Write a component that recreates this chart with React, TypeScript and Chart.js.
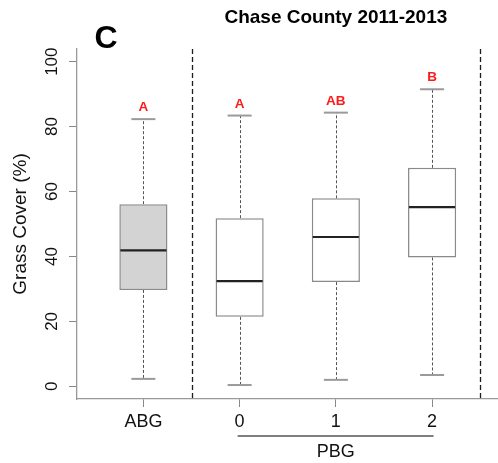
import { useEffect, useRef } from 'react';
import { Chart, registerables } from 'chart.js';

Chart.register(...registerables);

// Grass cover by grazing treatment, Chase County 2011-2013
const categories = ['ABG', '0', '1', '2'];
const positions = [1, 2, 3, 4];
const whiskerLow = [2.3, 0.4, 2.0, 3.5];
const lowerQuartile = [29.7, 21.4, 32.1, 39.7];
const medians = [41.9, 32.4, 46.0, 55.2];
const upperQuartile = [56.1, 51.8, 57.9, 67.3];
const whiskerHigh = [82.3, 83.4, 84.3, 91.5];
const groupLetters = ['A', 'A', 'AB', 'B'];
const boxFills = ['#d3d3d3', '#ffffff', '#ffffff', '#ffffff'];
const yTicks = [0, 20, 40, 60, 80, 100];
const separators = [1.5, 4.5];
const pbgSpan = [2, 4];

const FONT = '"Liberation Sans", Arial, Helvetica, sans-serif';

const boxplotDecor = {
  id: 'boxplotDecor',
  beforeDatasetsDraw(chart: any) {
    const { ctx, chartArea, scales } = chart;
    const x = scales.x;
    const y = scales.y;
    ctx.save();
    // dashed group separators
    ctx.strokeStyle = '#1a1a1a';
    ctx.lineWidth = 1.3;
    ctx.setLineDash([5, 3]);
    separators.forEach((s) => {
      const px = Math.round(x.getPixelForValue(s)) + 0.5;
      ctx.beginPath();
      ctx.moveTo(px, chartArea.top);
      ctx.lineTo(px, chartArea.bottom);
      ctx.stroke();
    });
    // whiskers
    ctx.strokeStyle = '#555';
    ctx.lineWidth = 1;
    ctx.setLineDash([3, 2]);
    positions.forEach((p, i) => {
      const px = Math.round(x.getPixelForValue(p)) + 0.5;
      ctx.beginPath();
      ctx.moveTo(px, y.getPixelForValue(upperQuartile[i]));
      ctx.lineTo(px, y.getPixelForValue(whiskerHigh[i]));
      ctx.moveTo(px, y.getPixelForValue(lowerQuartile[i]));
      ctx.lineTo(px, y.getPixelForValue(whiskerLow[i]));
      ctx.stroke();
    });
    // whisker caps
    ctx.setLineDash([]);
    ctx.strokeStyle = '#9a9a9a';
    ctx.lineWidth = 2;
    const unit = x.getPixelForValue(2) - x.getPixelForValue(1);
    const half = unit * 0.125;
    positions.forEach((p, i) => {
      const px = x.getPixelForValue(p);
      [whiskerHigh[i], whiskerLow[i]].forEach((v) => {
        const py = y.getPixelForValue(v);
        ctx.beginPath();
        ctx.moveTo(px - half, py);
        ctx.lineTo(px + half, py);
        ctx.stroke();
      });
    });
    ctx.restore();
  },
  afterDatasetsDraw(chart: any) {
    const { ctx, scales } = chart;
    const x = scales.x;
    const y = scales.y;
    const unit = x.getPixelForValue(2) - x.getPixelForValue(1);
    const half = unit * 0.25;
    ctx.save();
    // medians
    ctx.strokeStyle = '#222';
    ctx.lineWidth = 2.2;
    positions.forEach((p, i) => {
      const px = x.getPixelForValue(p);
      const py = y.getPixelForValue(medians[i]);
      ctx.beginPath();
      ctx.moveTo(px - half + 1, py);
      ctx.lineTo(px + half - 1, py);
      ctx.stroke();
    });
    // significance letters
    ctx.fillStyle = '#ff1a1a';
    ctx.font = `bold 13.5px ${FONT}`;
    ctx.textAlign = 'center';
    ctx.textBaseline = 'middle';
    positions.forEach((p, i) => {
      ctx.fillText(groupLetters[i], x.getPixelForValue(p), y.getPixelForValue(whiskerHigh[i]) - 11.5);
    });
    ctx.restore();
  },
  afterDraw(chart: any) {
    const { ctx, chartArea, scales } = chart;
    const x = scales.x;
    const y = scales.y;
    ctx.save();
    ctx.fillStyle = '#111';
    // y tick labels, parallel to the axis
    ctx.font = `17px ${FONT}`;
    ctx.textAlign = 'center';
    ctx.textBaseline = 'middle';
    yTicks.forEach((v) => {
      ctx.save();
      ctx.translate(chartArea.left - 25, y.getPixelForValue(v));
      ctx.rotate(-Math.PI / 2);
      ctx.fillText(String(v), 0, 0);
      ctx.restore();
    });
    // y axis title
    ctx.save();
    ctx.font = `19px ${FONT}`;
    ctx.translate(21, (chartArea.top + chartArea.bottom) / 2);
    ctx.rotate(-Math.PI / 2);
    ctx.fillText('Grass Cover (%)', 0, 0);
    ctx.restore();
    // PBG bracket
    const bx0 = x.getPixelForValue(pbgSpan[0]) - 2;
    const bx1 = x.getPixelForValue(pbgSpan[1]) + 1.5;
    const by = chartArea.bottom + 37;
    ctx.strokeStyle = '#555';
    ctx.lineWidth = 1.5;
    ctx.beginPath();
    ctx.moveTo(bx0, by);
    ctx.lineTo(bx1, by);
    ctx.stroke();
    ctx.font = `18px ${FONT}`;
    ctx.fillText('PBG', x.getPixelForValue(3), chartArea.bottom + 53);
    // title and panel letter
    ctx.fillStyle = '#000';
    ctx.font = `bold 19px ${FONT}`;
    ctx.fillText('Chase County 2011-2013', x.getPixelForValue(3), 18);
    ctx.font = `bold 32px ${FONT}`;
    ctx.fillText('C', 106, 39);
    ctx.restore();
  },
};

export default function App() {
  const ref = useRef<HTMLCanvasElement>(null);
  useEffect(() => {
    const chart = new Chart(ref.current as HTMLCanvasElement, {
      type: 'bar',
      data: {
        datasets: [
          {
            data: positions.map((p, i) => ({ x: p, y: [lowerQuartile[i], upperQuartile[i]] })) as any,
            backgroundColor: boxFills,
            borderColor: '#8a8a8a',
            borderWidth: 1.5,
            borderSkipped: false,
            barPercentage: 0.5,
            categoryPercentage: 1,
          },
        ],
      },
      options: {
        responsive: false,
        animation: false,
        events: [],
        layout: { padding: { top: 49, left: 0, right: 0, bottom: 0 } },
        plugins: {
          legend: { display: false },
          tooltip: { enabled: false },
          title: { display: false },
        },
        scales: {
          x: {
            type: 'linear',
            offset: false,
            min: 0.31,
            max: 4.685,
            afterBuildTicks: (s: any) => {
              s.ticks = positions.map((v) => ({ value: v }));
            },
            afterFit: (s: any) => {
              s.height = 64;
            },
            ticks: {
              callback: (v: any) => categories[positions.indexOf(Number(v))] ?? '',
              font: { family: FONT, size: 18 },
              color: '#111',
              padding: 4,
              autoSkip: false,
              maxRotation: 0,
              minRotation: 0,
            },
            grid: { offset: false, drawOnChartArea: false, tickLength: 8, color: '#888', lineWidth: 1 },
            border: { color: '#999', width: 1.3 },
          },
          y: {
            type: 'linear',
            min: -3.9,
            max: 103.9,
            afterBuildTicks: (s: any) => {
              s.ticks = yTicks.map((v) => ({ value: v }));
            },
            afterFit: (s: any) => {
              s.width = 77;
            },
            ticks: { display: false },
            grid: { drawOnChartArea: false, tickLength: 8, color: '#888', lineWidth: 1 },
            border: { color: '#999', width: 1.3 },
          },
        },
      },
      plugins: [boxplotDecor],
    });
    return () => chart.destroy();
  }, []);

  return (
    <div style={{ position: 'absolute', left: 0, top: 0, width: 498, height: 463, background: '#fff' }}>
      <canvas ref={ref} width={498} height={463} />
    </div>
  );
}
